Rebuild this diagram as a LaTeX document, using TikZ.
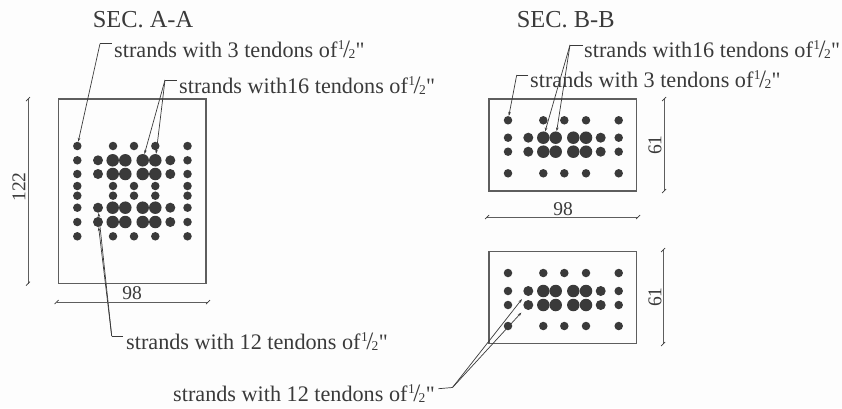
\documentclass[tikz,border=0pt]{standalone}
\usepackage{fontspec}
\setmainfont{Liberation Serif}[Ligatures=TeXOff]
\usetikzlibrary{arrows.meta}
\definecolor{ink}{HTML}{3A3A3A}
\definecolor{rule}{HTML}{5E5E5E}
\definecolor{paper}{HTML}{FDFDFD}
\newcommand{\hf}{\kern.5pt\raisebox{8pt}{\fontsize{13.5}{14}\selectfont 1}\kern-1.5pt\raisebox{-.5pt}{\fontsize{25}{25}\selectfont /}\kern-1.5pt\raisebox{-1pt}{\fontsize{13.5}{14}\selectfont 2}\kern.3pt{\fontsize{22}{22}\selectfont "}}
\tikzset{
  x=1pt,y=-1pt,
  lab/.style={anchor=base west,inner sep=0pt,font=\fontsize{22.2}{26}\selectfont,text=ink},
  title/.style={anchor=base west,inner sep=0pt,font=\fontsize{24.4}{28}\selectfont,text=ink},
  dimtxt/.style={inner sep=0pt,font=\fontsize{19.5}{22}\selectfont,text=ink},
  frame/.style={draw=rule,line width=1.1pt},
  dim/.style={draw=rule,line width=.9pt},
  tick/.style={draw=ink,line width=.7pt},
  leader/.style={draw=ink,line width=.7pt,-{Stealth[length=4pt,width=2.6pt]}},
  plain/.style={draw=ink,line width=.7pt},
  ds/.style={circle,fill=ink,inner sep=0pt,minimum size=8.5pt},
  dm/.style={circle,fill=ink,inner sep=0pt,minimum size=10pt},
  dl/.style={circle,fill=ink,inner sep=0pt,minimum size=12.5pt},
}
\begin{document}
\begin{tikzpicture}
\fill[paper] (0,0) rectangle (842,408);
\useasboundingbox (0,0) rectangle (842,408);
% frames
\draw[frame] (58.5,99) rectangle (206,283.7);
\draw[frame] (489,99) rectangle (636.7,191);
\draw[frame] (489,251.7) rectangle (636.7,343.7);
% section A dots
\foreach \r/\y in {1/146,4/186,5/195.7,8/236.3}{
  \foreach \c/\x in {a/77.3,b/113,c/134,d/155.3,e/187.5}
    \node[ds] (A\r\c) at (\x,\y) {};
}
\foreach \r/\y in {2/160.3,3/174,6/207.7,7/222}{
  \foreach \c/\x/\s in {a/77.3/ds,b/98/dm,c/112.7/dl,d/125.3/dl,e/142.7/dl,f/155.3/dl,g/170.3/dm,h/187.5/ds}
    \node[\s] (A\r\c) at (\x,\y) {};
}
% section B dots (top and bottom)
\foreach \p/\ya/\yb/\yc/\yd in {T/120.3/137.7/151.7/173.3,U/273/291/305/326}{
  \foreach \r/\y in {1/\ya,4/\yd}{
    \foreach \c/\x in {a/508,b/543.3,c/564.3,d/586,e/618.7}
      \node[ds] (\p\r\c) at (\x,\y) {};
  }
  \foreach \r/\y in {2/\yb,3/\yc}{
    \foreach \c/\x/\s in {a/508/ds,b/528.3/dm,c/543.3/dl,d/555.7/dl,e/573.3/dl,f/586/dl,g/600.7/dm,h/618.7/ds}
      \node[\s] (\p\r\c) at (\x,\y) {};
  }
}
% titles
\node[title] (ta) at (92.7,27) {SEC. A-A};
\node[title] (tb) at (516.7,27) {SEC. B-B};
% labels
\node[lab] (l1) at (114,57) {strands with 3 tendons of\hf};
\node[lab] (l2) at (179,93) {strands with16 tendons of\hf};
\node[lab] (l3) at (126,349) {strands with 12 tendons of\hf};
\node[lab] (l4) at (584,57) {strands with16 tendons of\hf};
\node[lab] (l5) at (530,87) {strands with 3 tendons of\hf};
\node[lab] (l6) at (173,401) {strands with 12 tendons of\hf};
% leaders
\coordinate (e1a) at (111.7,43.7); \coordinate (e1b) at (100,43.7);
\draw[plain] (e1a) -- (e1b);
\draw[leader] (e1b) -- (A1a);
\coordinate (e2a) at (176.7,80); \coordinate (e2b) at (165,80);
\draw[plain] (e2a) -- (e2b);
\draw[leader] (e2b) -- (A2e);
\draw[leader] (e2b) -- (A2f);
\coordinate (e3a) at (123,336); \coordinate (e3b) at (111.7,336);
\draw[plain] (e3a) -- (e3b);
\draw[leader] (e3b) -- (A6b);
\draw[leader] (e3b) -- (A7b);
\coordinate (e4a) at (583,45); \coordinate (e4b) at (570,45);
\draw[plain] (e4a) -- (e4b);
\draw[leader] (e4b) -- (T2c);
\draw[leader] (e4b) -- (T2d);
\coordinate (e5a) at (528.3,75); \coordinate (e5b) at (516.7,75);
\draw[plain] (e5a) -- (e5b);
\draw[leader] (e5b) -- (T1a);
\coordinate (e6a) at (438.3,388.7); \coordinate (e6b) at (452.5,387.5);
\draw[plain] (e6a) -- (e6b);
\draw[leader,shorten >=5pt] (e6b) -- (U2b);
\draw[leader,shorten >=5pt] (e6b) -- (U3b);
% dimensions
\foreach \n/\xa/\ya/\xb/\yb in {d1/28/99/28/283.7,d2/56.7/302/208/302,d3/487/217/638/217,d4/664/99/664/191,d5/663/250/663/344}{
  \coordinate (\n a) at (\xa,\ya);
  \coordinate (\n b) at (\xb,\yb);
  \draw[dim] (\n a) -- (\n b);
  \draw[tick] ([shift={(-2,2)}]\n a) -- ([shift={(2,-2)}]\n a);
  \draw[tick] ([shift={(-2,2)}]\n b) -- ([shift={(2,-2)}]\n b);
}
\node[dimtxt,rotate=90] (t122) at (19,187) {122};
\node[dimtxt] (t98a) at (132,293) {98};
\node[dimtxt] (t98b) at (563,209) {98};
\node[dimtxt,rotate=90] (t61a) at (655,145) {61};
\node[dimtxt,rotate=90] (t61b) at (655,297) {61};
\end{tikzpicture}
\end{document}
